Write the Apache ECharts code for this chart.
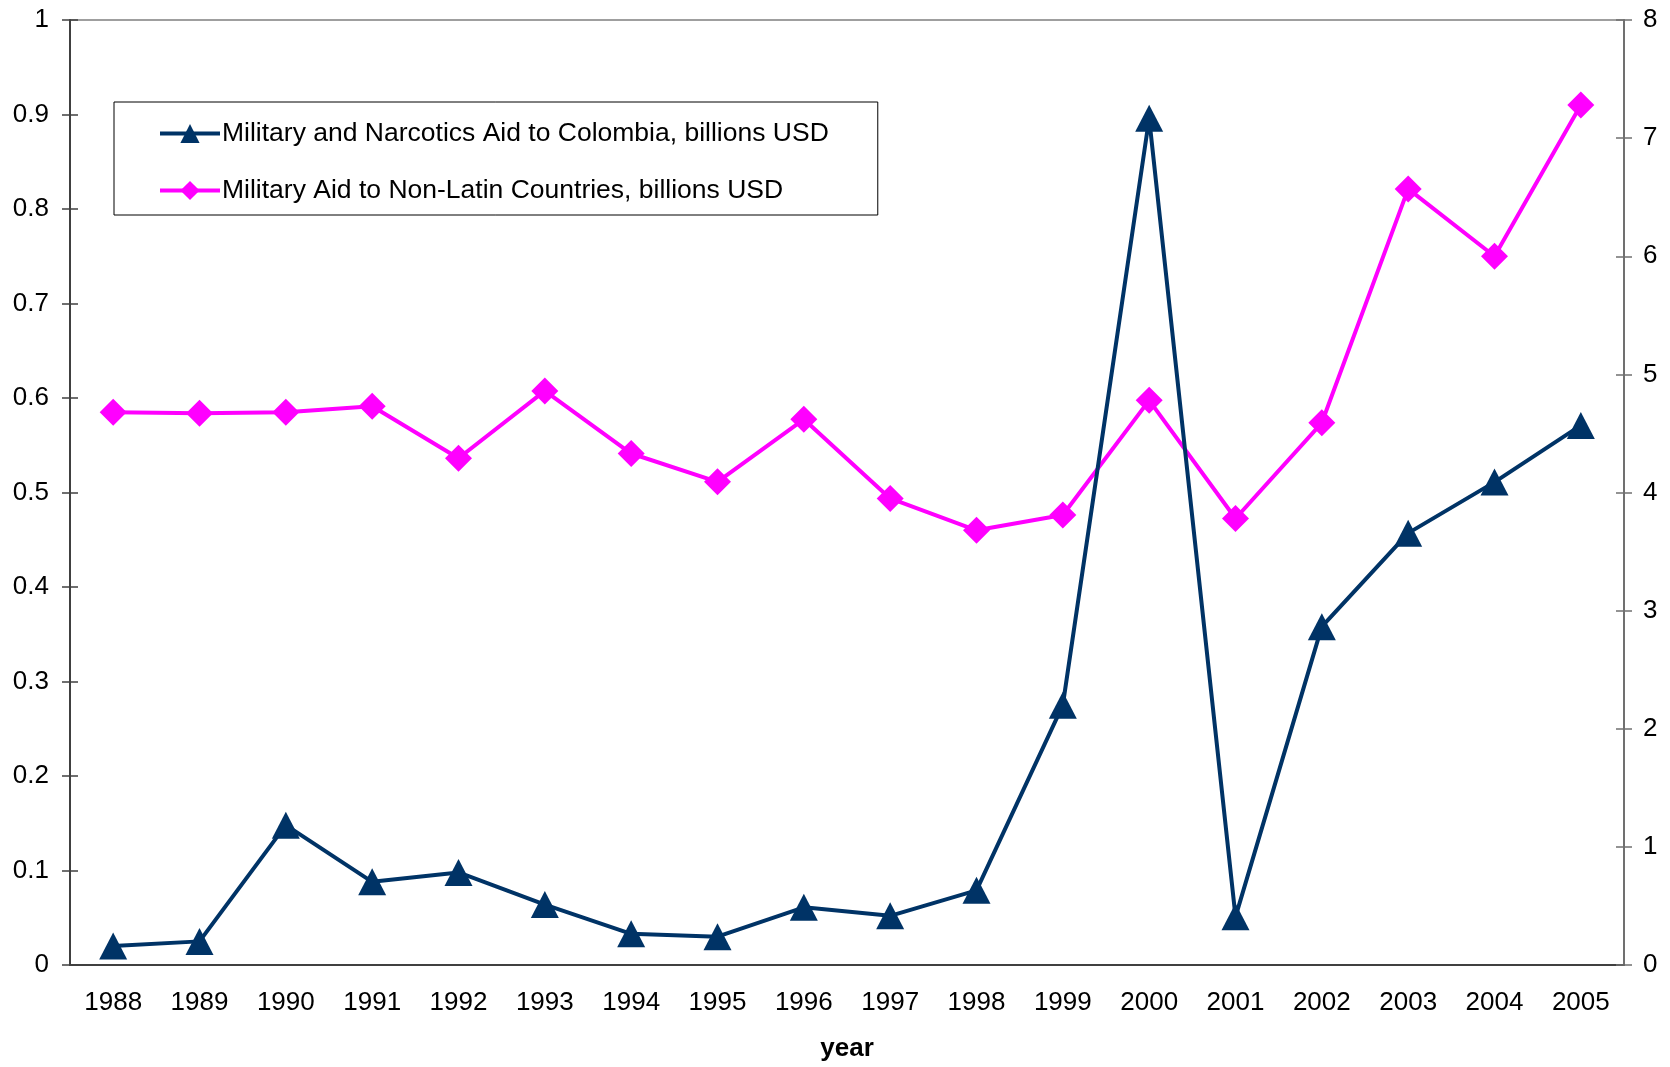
<!DOCTYPE html>
<html>
<head>
<meta charset="utf-8">
<title>Military aid</title>
<script src="https://cdn.jsdelivr.net/npm/echarts@6/dist/echarts.min.js"></script>
<style>
    html, body { margin: 0; padding: 0; background: #fff; }
    #chart { width: 1670px; height: 1067px; }
</style>
</head>
<body>
<div id="chart"></div>
<script>
var years = ['1988', '1989', '1990', '1991', '1992', '1993', '1994', '1995', '1996',
             '1997', '1998', '1999', '2000', '2001', '2002', '2003', '2004', '2005'];
// left axis, billions USD
var colombiaAid = [0.020, 0.025, 0.148, 0.088, 0.098, 0.064, 0.033, 0.030, 0.061,
                   0.052, 0.079, 0.275, 0.896, 0.051, 0.358, 0.457, 0.511, 0.571];
// right axis, billions USD
var nonLatinAid = [4.68, 4.67, 4.68, 4.73, 4.29, 4.86, 4.33, 4.09, 4.62,
                   3.95, 3.68, 3.81, 4.78, 3.78, 4.59, 6.57, 6.00, 7.28];

var colombiaName = 'Military and Narcotics Aid to Colombia, billions USD';
var nonLatinName = 'Military Aid to Non-Latin Countries, billions USD';

var FONT = "'Liberation Sans', Arial, sans-serif";
var NAVY = '#003366', PINK = '#ff00ff';

var chart = echarts.init(document.getElementById('chart'));

// 坐标轴两侧都有刻度：每根轴再叠一根只画内侧刻度的轴
function innerTickY(pos, max, step, color) {
    return {
        type: 'value', position: pos, min: 0, max: max, interval: step,
        axisLine: { show: false },
        axisTick: { show: true, inside: true, length: 8, lineStyle: { color: color, width: 1.5 } },
        axisLabel: { show: false },
        splitLine: { show: false }
    };
}

var option = {
    animation: false,
    backgroundColor: '#fff',
    textStyle: { fontFamily: FONT },
    grid: {
        left: 70, right: 46, top: 20, bottom: 102,
        show: true, borderColor: '#808080', borderWidth: 1.5
    },
    legend: {
        orient: 'vertical',
        left: 114, top: 102,
        data: [colombiaName, nonLatinName],
        itemWidth: 60, itemHeight: 24,
        itemGap: 30,
        padding: [18, 49, 11, 44],
        borderColor: '#000', borderWidth: 1,
        lineStyle: { width: 4 },
        textStyle: { fontFamily: FONT, fontSize: 26.5, lineHeight: 26, color: '#000', padding: [0, 0, 0, -3] }
    },
    xAxis: [{
        type: 'category',
        data: years,
        boundaryGap: true,
        name: 'year',
        nameLocation: 'middle',
        nameGap: 71,
        nameTextStyle: { fontFamily: FONT, fontSize: 26, fontWeight: 'bold', color: '#000' },
        axisLine: { lineStyle: { color: '#404040', width: 2 } },
        axisTick: { length: 8, lineStyle: { color: '#404040', width: 1.5 } },
        axisLabel: { margin: 25, fontFamily: FONT, fontSize: 26, color: '#000' },
        splitLine: { show: false }
    }, {
        type: 'category',
        data: years,
        position: 'bottom',
        axisLine: { show: false },
        axisTick: { inside: true, length: 8, lineStyle: { color: '#404040', width: 1.5 } },
        axisLabel: { show: false },
        splitLine: { show: false }
    }],
    yAxis: [{
        type: 'value', position: 'left',
        min: 0, max: 1, interval: 0.1,
        axisLine: { show: true, lineStyle: { color: '#404040', width: 2 } },
        axisTick: { show: true, length: 8, lineStyle: { color: '#404040', width: 1.5 } },
        axisLabel: { margin: 21, fontFamily: FONT, fontSize: 26, color: '#000' },
        splitLine: { show: false }
    }, {
        type: 'value', position: 'right',
        min: 0, max: 8, interval: 1,
        axisLine: { show: true, lineStyle: { color: '#707070', width: 2 } },
        axisTick: { show: true, length: 8, lineStyle: { color: '#707070', width: 1.5 } },
        axisLabel: { margin: 19, fontFamily: FONT, fontSize: 26, color: '#000' },
        splitLine: { show: false }
    },
        innerTickY('left', 1, 0.1, '#404040'),
        innerTickY('right', 8, 1, '#707070')
    ],
    series: [{
        name: nonLatinName,
        type: 'line',
        yAxisIndex: 1,
        data: nonLatinAid,
        z: 2,
        symbol: 'diamond',
        symbolSize: 27,
        lineStyle: { color: PINK, width: 4 },
        itemStyle: { color: PINK }
    }, {
        name: colombiaName,
        type: 'line',
        yAxisIndex: 0,
        data: colombiaAid,
        z: 3,
        symbol: 'triangle',
        symbolSize: [28, 27],
        lineStyle: { color: NAVY, width: 4 },
        itemStyle: { color: NAVY }
    }]
};

chart.setOption(option);
</script>
</body>
</html>
